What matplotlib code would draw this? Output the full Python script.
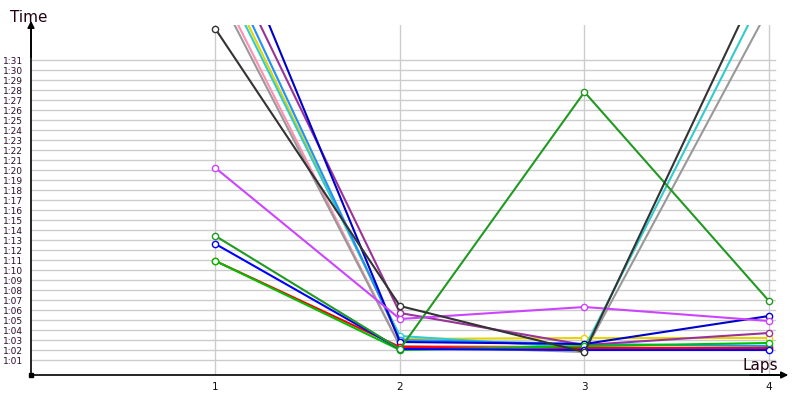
import matplotlib
matplotlib.use("Agg")
import matplotlib.pyplot as plt

# lap numbers and lap times in seconds
laps = [1, 2, 3, 4]

black_times = [94.1, 66.4, 61.8, 100.8]
gray_times = [98.2, 62.4, 61.8, 96.2]
pink_times = [99.0, 62.4, 62.3, 62.2]
turquoise_times = [100.5, 63.4, 62.2, 98.6]
yellow_times = [101.3, 63.1, 63.2, 63.2]
lightblue_times = [102.4, 63.0, 62.6, 62.4]
purple_times = [103.7, 65.7, 62.5, 63.7]
darkblue_times = [107.5, 62.8, 62.6, 65.4]
magenta_times = [80.2, 65.1, 66.3, 64.9]
darkgreen_times = [73.4, 62.1, 87.8, 66.9]
blue_times = [72.6, 62.1, 62.0, 62.0]
red_times = [70.9, 62.3, 62.2, 62.2]
green_times = [70.9, 62.0, 62.4, 62.7]

series = [
    (pink_times, '#ff8fb0'),
    (gray_times, '#999999'),
    (yellow_times, '#e8d400'),
    (turquoise_times, '#33cccc'),
    (lightblue_times, '#1e90ff'),
    (purple_times, '#993399'),
    (darkblue_times, '#0000cc'),
    (red_times, '#ff0000'),
    (green_times, '#00c000'),
    (blue_times, '#0000ff'),
    (magenta_times, '#cc44ff'),
    (darkgreen_times, '#229922'),
    (black_times, '#333333'),
]

y_ticks = list(range(61, 92))
y_labels = [f"{t // 60}:{t % 60:02d}" for t in y_ticks]

fig = plt.figure(figsize=(8, 4), dpi=100)
ax = fig.add_axes([31 / 800, 25 / 400, 754 / 800, 350 / 400])

ax.set_xlim(0, 4.087)
ax.set_ylim(59.5, 94.5)

# grid
for t in y_ticks:
    ax.axhline(t, xmax=0.987, color='#cccccc', lw=1, zorder=0)
for lap in laps:
    ax.axvline(lap, color='#cccccc', lw=1, zorder=0)

for times, col in series:
    ax.plot(laps, times, color=col, lw=1.5, marker='o', ms=4.5,
            mfc='white', mec=col, mew=1, zorder=3)

ax.set_yticks(y_ticks)
ax.set_yticklabels(y_labels, fontsize=6.5, color='#2a0a2a', ha='left')
ax.set_xticks(laps)
ax.set_xticklabels([str(l) for l in laps], fontsize=7.5, color='#111111')
ax.tick_params(axis='y', length=0, pad=20)
ax.tick_params(axis='x', length=0, pad=5)

for s in ['top', 'right']:
    ax.spines[s].set_visible(False)
for s in ['left', 'bottom']:
    ax.spines[s].set_color('black')
    ax.spines[s].set_linewidth(1.2)

# axis arrows
ax.annotate('', xy=(0, 1.02), xytext=(0, 0.9), xycoords='axes fraction',
            arrowprops=dict(arrowstyle='-|>', color='black', lw=1.2, mutation_scale=10),
            annotation_clip=False)
ax.annotate('', xy=(1.008, 0), xytext=(0.95, 0), xycoords='axes fraction',
            arrowprops=dict(arrowstyle='-|>', color='black', lw=1.2, mutation_scale=10),
            annotation_clip=False)
ax.plot([0], [0], marker='s', ms=3.5, color='black', transform=ax.transAxes,
        clip_on=False, zorder=5)

fig.text(10 / 800, 1 - 22 / 400, 'Time', fontsize=11, color='#220011', ha='left', va='baseline')
fig.text(742 / 800, 1 - 370 / 400, 'Laps', fontsize=11, color='#220011', ha='left', va='baseline')

fig.savefig('out.png', dpi=100)
